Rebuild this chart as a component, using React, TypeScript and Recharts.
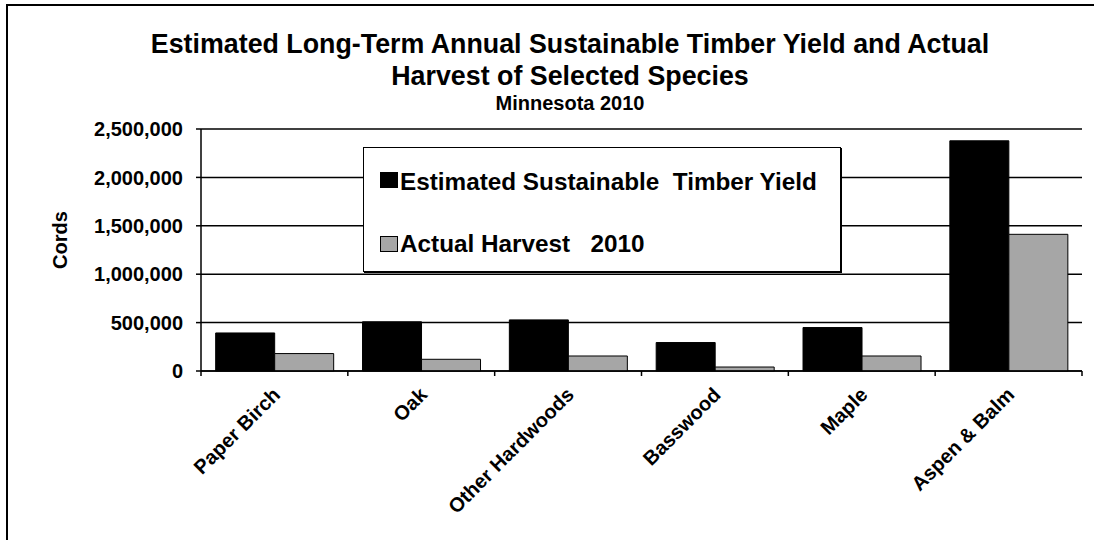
import React from "react";
import {
  BarChart,
  Bar,
  XAxis,
  YAxis,
  CartesianGrid,
  Legend,
} from "recharts";

const species = ["Paper Birch", "Oak", "Other Hardwoods", "Basswood", "Maple", "Aspen & Balm"];
const sustainableYield = [393000, 508000, 528000, 294000, 449000, 2378000];
const actualHarvest = [180000, 121000, 155000, 41000, 155000, 1412000];
const yTicks = [0, 500000, 1000000, 1500000, 2000000, 2500000];

const data = species.map((name, i) => ({
  name,
  yield: sustainableYield[i],
  harvest: actualHarvest[i],
}));

const FONT = "Arial, 'Liberation Sans', sans-serif";
const GREY = "#a6a6a6";
const seriesOrder = ["yield", "harvest"];

// Excel-style ticks sit between categories, so draw them at the band edges
const CategoryTick = ({ x, y, payload, index, width, visibleTicksCount }: any) => {
  const half =
    payload && typeof payload.offset === "number" && payload.offset > 0
      ? payload.offset
      : width / (visibleTicksCount || species.length) / 2;
  const isLast = index === (visibleTicksCount || species.length) - 1;
  const lx = x + 7;
  const ly = y + 25;
  return (
    <g>
      <line x1={x - half} x2={x - half} y1={y} y2={y + 5} stroke="#000" strokeWidth={1.5} />
      {isLast && (
        <line x1={x + half} x2={x + half} y1={y} y2={y + 5} stroke="#000" strokeWidth={1.5} />
      )}
      <text
        x={lx}
        y={ly}
        transform={`rotate(-45, ${lx}, ${ly})`}
        textAnchor="end"
        fontFamily={FONT}
        fontWeight="bold"
        fontSize={20}
        fill="#000"
      >
        {payload.value}
      </text>
    </g>
  );
};

const CordsLabel = ({ viewBox }: any) => {
  const cx = viewBox.x + 60;
  const cy = viewBox.y + viewBox.height / 2 - 10;
  return (
    <text
      x={cx}
      y={cy}
      transform={`rotate(-90, ${cx}, ${cy})`}
      textAnchor="middle"
      dominantBaseline="central"
      fontFamily={FONT}
      fontWeight="bold"
      fontSize={20}
      fill="#000"
    >
      Cords
    </text>
  );
};

const LegendBox = ({ payload }: any) => {
  const items = [...(payload || [])].sort(
    (a: any, b: any) => seriesOrder.indexOf(a.dataKey) - seriesOrder.indexOf(b.dataKey)
  );
  return (
    <div
      style={{
        width: 478,
        height: 125,
        border: "1px solid #000",
        boxShadow: "1px 1px 0 #000",
        background: "#fff",
        boxSizing: "border-box",
      }}
    >
      <svg width={476} height={123} style={{ display: "block" }}>
        {items.map((p: any, i: number) => (
          <g key={p.value}>
            <rect
              x={16.5}
              y={i === 0 ? 24.5 : 88.5}
              width={17}
              height={15}
              fill={p.color}
              stroke="#000"
            />
            <text
              x={36}
              y={i === 0 ? 42 : 104}
              fontFamily={FONT}
              fontWeight="bold"
              fontSize={24.3}
              fill="#000"
              style={{ whiteSpace: "pre" }}
            >
              {p.value}
            </text>
          </g>
        ))}
      </svg>
    </div>
  );
};

export default function App() {
  return (
    <div
      style={{
        position: "absolute",
        left: 0,
        top: 0,
        width: 1094,
        height: 540,
        overflow: "hidden",
        background: "#fff",
      }}
    >
      <div
        style={{
          position: "absolute",
          left: 6,
          top: 4,
          width: 1200,
          height: 700,
          border: "2px solid #000",
        }}
      />
      <svg
        width={1094}
        height={130}
        style={{ position: "absolute", left: 0, top: 0, pointerEvents: "none" }}
      >
        <g fontFamily={FONT} fontWeight="bold" fill="#000" textAnchor="middle">
          <text x={570} y={53} fontSize={26.8}>
            Estimated Long-Term Annual Sustainable Timber Yield and Actual
          </text>
          <text x={570} y={85} fontSize={26.8}>
            Harvest of Selected Species
          </text>
          <text x={570} y={110} fontSize={20}>
            Minnesota 2010
          </text>
        </g>
      </svg>
      <div style={{ position: "absolute", left: 0, top: 0 }}>
        <BarChart
          width={1094}
          height={540}
          data={data}
          margin={{ top: 129, right: 12, bottom: 0, left: 0 }}
          barGap={0}
          barCategoryGap="10%"
        >
          <CartesianGrid horizontal vertical={false} stroke="#000" strokeWidth={1.5} yAxisId="left" xAxisId="cat" />
          <XAxis
            xAxisId="cat"
            dataKey="name"
            height={169}
            interval={0}
            axisLine={{ stroke: "#000", strokeWidth: 1.5 }}
            tickLine={false}
            tickSize={0}
            tickMargin={0}
            tick={<CategoryTick />}
          />
          <XAxis
            xAxisId="top"
            orientation="top"
            dataKey="name"
            height={0}
            tick={false}
            tickLine={false}
            axisLine={{ stroke: "#808080", strokeWidth: 1.5 }}
          />
          <YAxis
            yAxisId="left"
            width={201}
            domain={[0, 2500000]}
            ticks={yTicks}
            interval={0}
            tickSize={5}
            tickMargin={13}
            axisLine={{ stroke: "#000", strokeWidth: 1.5 }}
            tickLine={{ stroke: "#000", strokeWidth: 1.5 }}
            tick={{ fill: "#000", fontSize: 20, fontWeight: "bold", fontFamily: FONT }}
            tickFormatter={(v: number) => v.toLocaleString("en-US")}
            label={<CordsLabel />}
          />
          <YAxis
            yAxisId="right"
            orientation="right"
            width={0}
            domain={[0, 1]}
            tick={false}
            tickLine={false}
            axisLine={{ stroke: "#808080", strokeWidth: 1.5 }}
          />
          <Legend
            layout="horizontal"
            verticalAlign="middle"
            align="center"
            content={<LegendBox />}
            wrapperStyle={{ position: "absolute", left: 363, top: 147, width: 478, height: 125 }}
          />
          <Bar
            dataKey="yield"
            name="Estimated Sustainable  Timber Yield"
            xAxisId="cat"
            yAxisId="left"
            fill="#000"
            stroke="#000"
            strokeWidth={1}
            isAnimationActive={false}
          />
          <Bar
            dataKey="harvest"
            name="Actual Harvest   2010"
            xAxisId="cat"
            yAxisId="left"
            fill={GREY}
            stroke="#000"
            strokeWidth={1}
            isAnimationActive={false}
          />
        </BarChart>
      </div>
    </div>
  );
}
